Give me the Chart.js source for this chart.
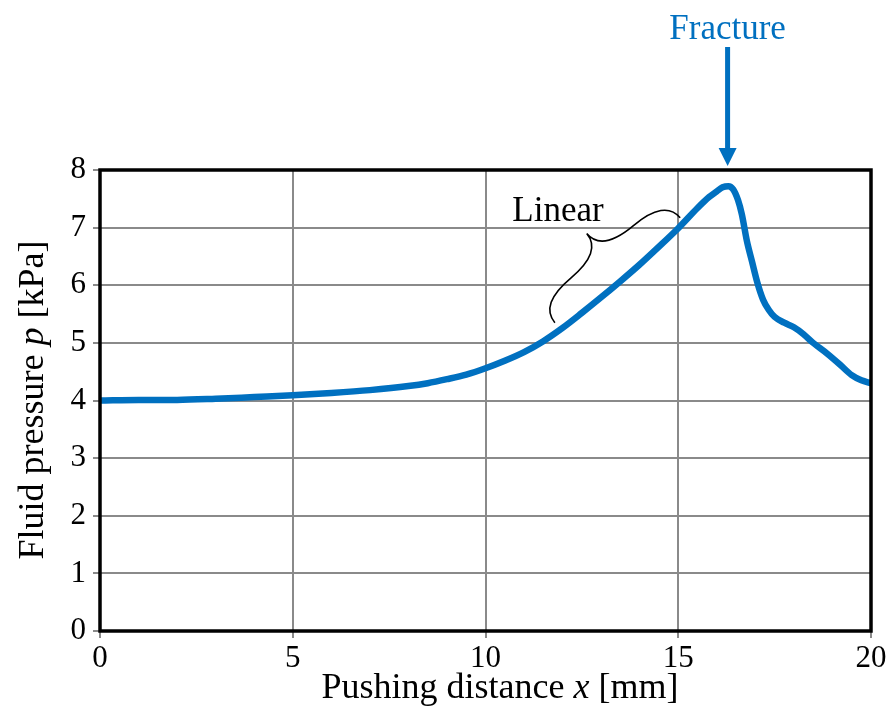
<!DOCTYPE html>
<html>
<head>
<meta charset="utf-8">
<script src="https://cdn.jsdelivr.net/npm/chart.js@4/dist/chart.umd.min.js"></script>
<style>
  html, body { margin: 0; padding: 0; background: #fff; }
  #wrap { width: 892px; height: 717px; }
</style>
</head>
<body>
<div id="wrap"><canvas id="c" width="892" height="717"></canvas></div>
<script>
// ---- data ----
const distanceMm = [0, 1, 2, 3, 4, 5, 6, 7, 8, 8.5, 9, 9.5, 10, 10.5, 11, 11.5, 12, 12.5, 13, 13.5, 14, 14.5, 15, 15.5, 15.8, 16, 16.15, 16.3, 16.42, 16.55, 16.65, 16.78, 16.91, 17.05, 17.2, 17.35, 17.5, 17.75, 18.0, 18.25, 18.5, 18.85, 19.2, 19.5, 19.75, 20.0];
const pressureKPa = [4.00, 4.01, 4.01, 4.03, 4.06, 4.09, 4.13, 4.18, 4.25, 4.30, 4.37, 4.45, 4.56, 4.69, 4.84, 5.03, 5.26, 5.52, 5.79, 6.07, 6.36, 6.67, 6.99, 7.34, 7.53, 7.63, 7.70, 7.72, 7.67, 7.48, 7.23, 6.77, 6.42, 6.05, 5.75, 5.57, 5.45, 5.35, 5.27, 5.15, 5.00, 4.82, 4.62, 4.44, 4.35, 4.30];
const xTicks = [0, 5, 10, 15, 20];
const yTicks = [0, 1, 2, 3, 4, 5, 6, 7, 8];
const fractureX = 16.28;          // peak position (mm)
const linearFrom = [11.8, 5.35];  // brace end near curve (mm, kPa)
const linearTo = [15.05, 7.17];   // brace end near curve (mm, kPa)
const linearLabelAt = [11.88, 7.11];

const SERIF = '"Liberation Serif", "Times New Roman", serif';
const BLUE = '#0070C0';

function drawMixed(ctx, parts, cx, cy, size) {
  let total = 0;
  const widths = parts.map(([t, it]) => {
    ctx.font = (it ? 'italic ' : '') + size + 'px ' + SERIF;
    const w = ctx.measureText(t).width; total += w; return w;
  });
  let x = cx - total / 2;
  ctx.textAlign = 'left';
  ctx.textBaseline = 'alphabetic';
  parts.forEach(([t, it], i) => {
    ctx.font = (it ? 'italic ' : '') + size + 'px ' + SERIF;
    ctx.fillText(t, x, cy);
    x += widths[i];
  });
}

function brace(ctx, x1, y1, x2, y2, w, q) {
  let dx = x1 - x2, dy = y1 - y2;
  const len = Math.sqrt(dx * dx + dy * dy);
  dx /= len; dy /= len;
  const qx1 = x1 + q * w * dy, qy1 = y1 - q * w * dx;
  const qx2 = (x1 - 0.25 * len * dx) + (1 - q) * w * dy, qy2 = (y1 - 0.25 * len * dy) - (1 - q) * w * dx;
  const tx1 = (x1 - 0.5 * len * dx) + w * dy, ty1 = (y1 - 0.5 * len * dy) - w * dx;
  const qx3 = x2 + q * w * dy, qy3 = y2 - q * w * dx;
  const qx4 = (x1 - 0.75 * len * dx) + (1 - q) * w * dy, qy4 = (y1 - 0.75 * len * dy) - (1 - q) * w * dx;
  ctx.beginPath();
  ctx.moveTo(x1, y1);
  ctx.quadraticCurveTo(qx1, qy1, qx2, qy2);
  ctx.quadraticCurveTo(2 * qx2 - qx1, 2 * qy2 - qy1, tx1, ty1);
  ctx.moveTo(x2, y2);
  ctx.quadraticCurveTo(qx3, qy3, qx4, qy4);
  ctx.quadraticCurveTo(2 * qx4 - qx3, 2 * qy4 - qy3, tx1, ty1);
  ctx.stroke();
}

const decor = {
  id: 'decor',
  afterDraw(chart) {
    const { ctx, chartArea: a, scales: { x, y } } = chart;
    ctx.save();
    // frame
    ctx.strokeStyle = '#000';
    ctx.lineWidth = 3.5;
    ctx.strokeRect(a.left, a.top, a.right - a.left, a.bottom - a.top);

    // fracture arrow
    const ax = x.getPixelForValue(fractureX);
    ctx.fillStyle = BLUE;
    ctx.fillRect(ax - 2.5, 47, 5, 104);
    ctx.beginPath();
    ctx.moveTo(ax - 9, 148);
    ctx.lineTo(ax + 9, 148);
    ctx.lineTo(ax, 166);
    ctx.closePath();
    ctx.fill();
    ctx.font = '35px ' + SERIF;
    ctx.textAlign = 'center';
    ctx.textBaseline = 'alphabetic';
    ctx.fillText('Fracture', ax, 39);

    // linear brace
    ctx.strokeStyle = '#000';
    ctx.lineWidth = 1.6;
    brace(ctx, x.getPixelForValue(linearTo[0]), y.getPixelForValue(linearTo[1]),
          x.getPixelForValue(linearFrom[0]), y.getPixelForValue(linearFrom[1]), 48, 0.5);
    ctx.fillStyle = '#000';
    ctx.font = '35px ' + SERIF;
    ctx.textAlign = 'center';
    ctx.fillText('Linear', x.getPixelForValue(linearLabelAt[0]), y.getPixelForValue(linearLabelAt[1]));

    // axis titles
    ctx.fillStyle = '#000';
    drawMixed(ctx, [['Pushing distance ', false], ['x', true], [' [mm]', false]], 500, 698, 36);
    ctx.translate(43, 400);
    ctx.rotate(-Math.PI / 2);
    drawMixed(ctx, [['Fluid pressure ', false], ['p', true], [' [kPa]', false]], 0, 0, 36);
    ctx.restore();
  }
};

new Chart(document.getElementById('c'), {
  type: 'line',
  data: {
    datasets: [{
      data: distanceMm.map((d, i) => ({ x: d, y: pressureKPa[i] })),
      borderColor: BLUE,
      borderWidth: 6.5,
      pointRadius: 0,
      fill: false,
      cubicInterpolationMode: 'monotone',
      borderCapStyle: 'round',
      borderJoinStyle: 'round'
    }]
  },
  options: {
    responsive: false,
    animation: false,
    devicePixelRatio: 1,
    layout: { padding: { top: 170, right: 21, left: 0, bottom: 0 } },
    plugins: { legend: { display: false }, tooltip: { enabled: false } },
    scales: {
      x: {
        type: 'linear', min: 0, max: 20,
        afterBuildTicks: s => { s.ticks = xTicks.map(v => ({ value: v })); },
        afterFit: s => { s.height = 86; },
        ticks: { font: { family: SERIF, size: 31 }, color: '#000', padding: 2, maxRotation: 0 },
        grid: { color: '#8a8a8a', lineWidth: 2, tickLength: 7, drawTicks: true },
        border: { display: false }
      },
      y: {
        type: 'linear', min: 0, max: 8,
        afterBuildTicks: s => { s.ticks = yTicks.map(v => ({ value: v })); },
        afterFit: s => { s.width = 100; },
        ticks: { font: { family: SERIF, size: 31 }, color: '#000', padding: 7 },
        grid: { color: '#8a8a8a', lineWidth: 2, tickLength: 7, drawTicks: true },
        border: { display: false }
      }
    }
  },
  plugins: [decor]
});
</script>
</body>
</html>
